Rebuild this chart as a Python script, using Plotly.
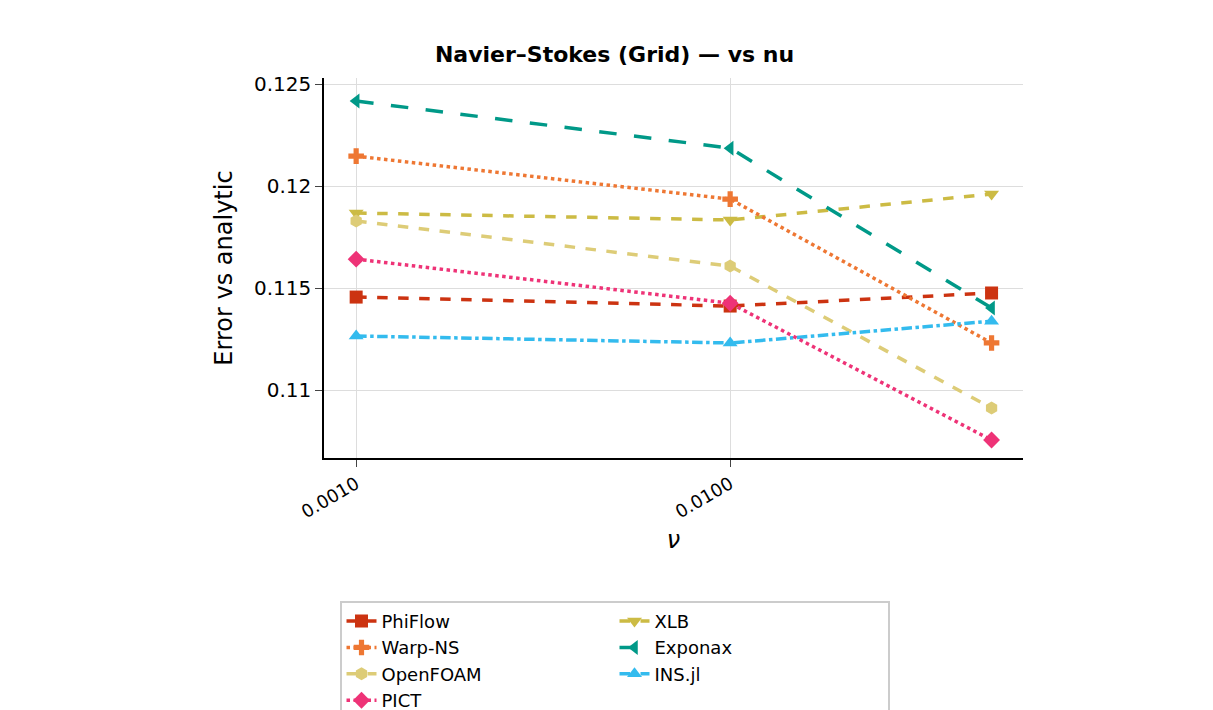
import plotly.graph_objects as go

nu = [0.001, 0.01, 0.05]

# error vs analytic
phiflow = [0.11456, 0.11412, 0.11476]
insjl = [0.11265, 0.11231, 0.11338]
xlb = [0.11868, 0.11834, 0.11961]
warpns = [0.12147, 0.11936, 0.11231]
exponax = [0.12417, 0.12186, 0.11402]
openfoam = [0.11829, 0.11608, 0.10912]
pict = [0.11642, 0.11426, 0.10755]

y_ticks = [0.11, 0.115, 0.12, 0.125]
y_tick_text = ["0.11", "0.115", "0.12", "0.125"]

# legend order matches the reference (row-wise)
series = [
    ("PhiFlow", phiflow, "#cc3311", "dash", "square"),
    ("XLB", xlb, "#ccbb44", "dash", "triangle-down"),
    ("Warp-NS", warpns, "#ee7733", "dot", "cross"),
    ("Exponax", exponax, "#009988", "longdash", "triangle-left"),
    ("OpenFOAM", openfoam, "#ddcc77", "dash", "hexagon"),
    ("INS.jl", insjl, "#33bbee", "dashdot", "triangle-up"),
    ("PICT", pict, "#ee3377", "dot", "diamond"),
]

fig = go.Figure()
for name, vals, color, dash, sym in series:
    fig.add_trace(go.Scatter(
        x=nu, y=vals, name=name, mode="lines+markers",
        line=dict(color=color, dash=dash, width=3.5),
        marker=dict(symbol=sym, size=13, color=color),
    ))

fig.update_layout(
    width=1213, height=710,
    paper_bgcolor="white", plot_bgcolor="white",
    font=dict(family="DejaVu Sans", size=20, color="black"),
    margin=dict(l=316, r=198, t=70, b=260, autoexpand=False),
    title=dict(text="<b>Navier–Stokes (Grid) — vs nu</b>", x=0.5,
               xanchor="center", y=0.945, font=dict(size=22)),
    xaxis=dict(type="log", range=[-3.086, -1.217],
               tickvals=[0.001, 0.01], ticktext=["0.0010", "0.0100"],
               tickangle=-30, ticks="outside", ticklen=7, showgrid=True,
               gridcolor="#dddddd", showline=True, linecolor="black",
               linewidth=1.5, title=dict(text="<i>ν</i>", standoff=10),
               tickfont=dict(size=18)),
    yaxis=dict(range=[0.10667, 0.1253], tickvals=y_ticks,
               ticktext=y_tick_text, ticks="outside", ticklen=7,
               showgrid=True, gridcolor="#dddddd", showline=True,
               linecolor="black", linewidth=1.5,
               title=dict(text="Error vs analytic")),
    legend=dict(orientation="h", xref="container", yref="container",
                x=0.5, xanchor="center", y=0.165, yanchor="top",
                entrywidth=228, bordercolor="#cccccc",
                borderwidth=2, font=dict(size=18)),
)

fig.write_html("out.html")
